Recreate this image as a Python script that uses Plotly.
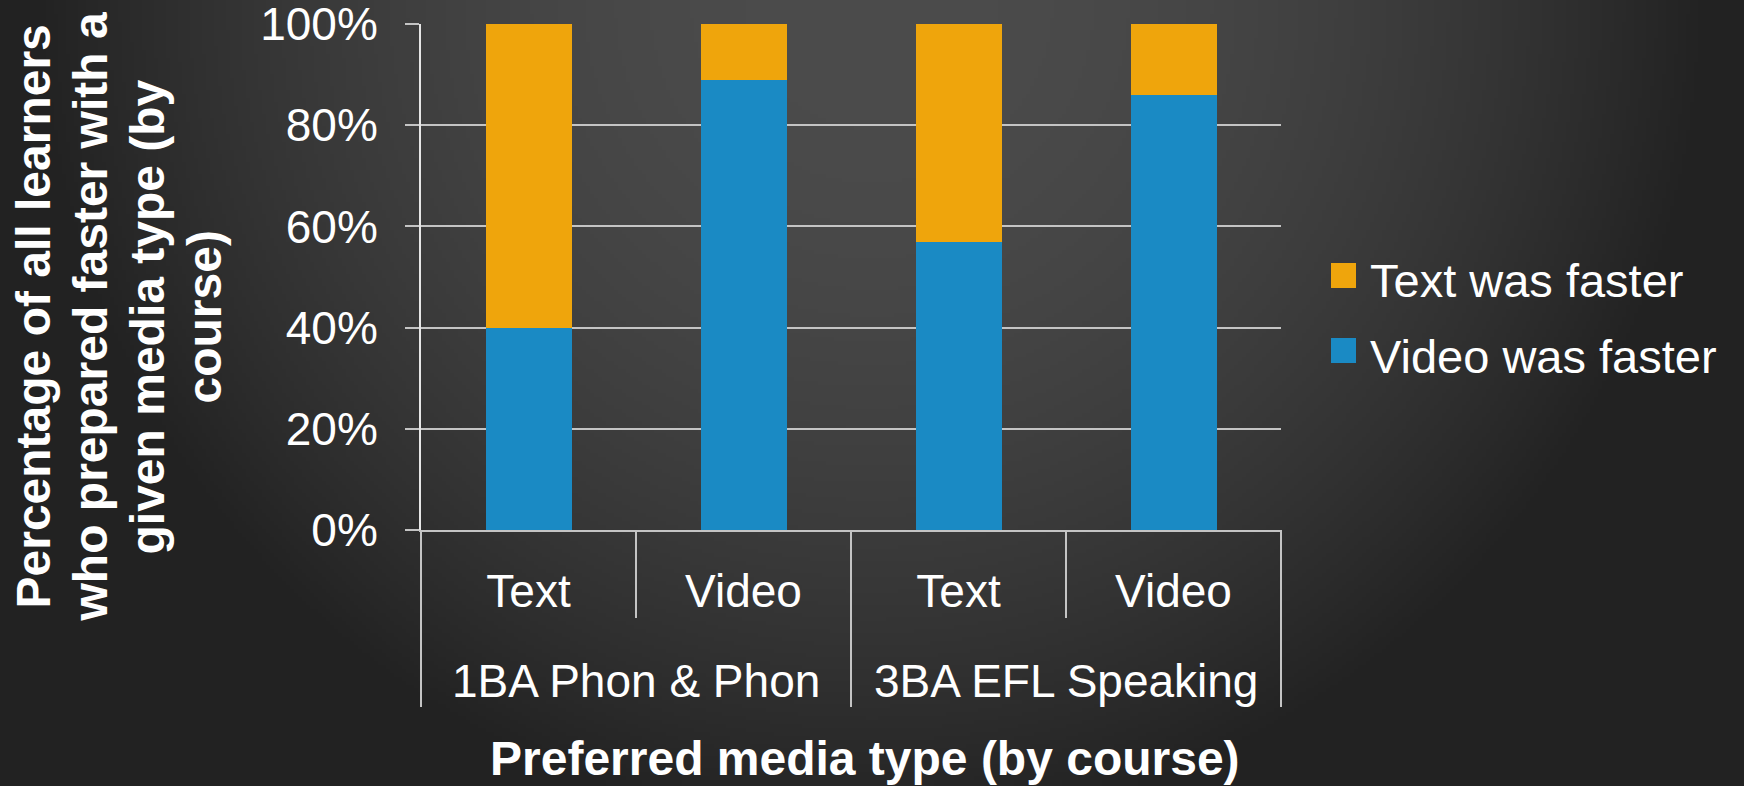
import base64
import struct
import zlib

import numpy as np
import plotly.graph_objects as go

# ---------------- data ----------------
courses = ["1BA Phon & Phon", "3BA EFL Speaking"]
media_types = ["Text", "Video"]
series_names = ["Text was faster", "Video was faster"]
text_faster = [60, 11, 43, 14]     # % of learners, per (course, preferred media)
video_faster = [40, 89, 57, 86]
y_ticks = [0, 20, 40, 60, 80, 100]
y_tick_labels = ["0%", "20%", "40%", "60%", "80%", "100%"]
x_title = "Preferred media type (by course)"
y_title_lines = ["Percentage of all learners", "who prepared faster with a",
                 "given media type (by", "course)"]

# ---------------- styling ----------------
W, H = 1744, 786
L, R, T, B = 421, 463, 24, 256
PW, PH = W - L - R, H - T - B
FONT = "Liberation Sans, Arial, sans-serif"
ORANGE = "#EFA50C"
BLUE = "#1A8AC4"
LINE = "#c4c4c4"


def px_x(px):
    return (px - L) / PW


def px_y(py):
    return (H - B - py) / PH


# background gradient image (style only)
gw, gh = 436, 197
xs = np.linspace(0, W, gw)[None, :]
ys = np.linspace(0, H, gh)[:, None]
d2 = ((xs - 872) / 820) ** 2 + (ys / 820) ** 2
img = np.clip(36 + 40 * (1 - d2), 34, 80).astype(np.uint8)


def png_gray(arr):
    h, w = arr.shape
    raw = b"".join(b"\x00" + arr[i].tobytes() for i in range(h))

    def chunk(t, d):
        c = struct.pack(">I", len(d)) + t + d
        return c + struct.pack(">I", zlib.crc32(t + d) & 0xFFFFFFFF)

    return (b"\x89PNG\r\n\x1a\n"
            + chunk(b"IHDR", struct.pack(">IIBBBBB", w, h, 8, 0, 0, 0, 0))
            + chunk(b"IDAT", zlib.compress(raw, 9))
            + chunk(b"IEND", b""))


bg_uri = "data:image/png;base64," + base64.b64encode(png_gray(img)).decode()

# category keys (unique) for the x axis
keys = [f"{c}|{m}" for c in courses for m in media_types]
inner_labels = [m for c in courses for m in media_types]

fig = go.Figure()
fig.add_trace(go.Bar(x=keys, y=video_faster, name=series_names[1],
                     marker=dict(color=BLUE, line=dict(width=0)), showlegend=False))
fig.add_trace(go.Bar(x=keys, y=text_faster, name=series_names[0],
                     marker=dict(color=ORANGE, line=dict(width=0)), showlegend=False))

shapes = []
annotations = []
n = len(keys)
# dividers below the x axis
for i in range(n + 1):
    outer = (i % len(media_types) == 0)
    shapes.append(dict(type="line", xref="x domain", yref="paper",
                       x0=i / n, x1=i / n, y0=0, y1=px_y(707 if outer else 618),
                       line=dict(color=LINE, width=2)))
# course labels
for j, c in enumerate(courses):
    annotations.append(dict(text=c, xref="x", yref="paper",
                            x=j * len(media_types) + (len(media_types) - 1) / 2,
                            y=px_y(681), xanchor="center", yanchor="middle",
                            showarrow=False, font=dict(family=FONT, size=46, color="white")))
# axis titles
annotations.append(dict(text=x_title, xref="paper", yref="paper",
                        x=px_x(865), y=px_y(758), xanchor="center", yanchor="middle",
                        showarrow=False, font=dict(family=FONT, size=48, color="white", weight="bold")))
for k, line in enumerate(y_title_lines):
    annotations.append(dict(text=line, xref="paper", yref="paper",
                            x=px_x(32.5 + 57 * k), y=px_y(317),
                            xanchor="center", yanchor="middle", textangle=-90, showarrow=False,
                            font=dict(family=FONT, size=48, color="white", weight="bold")))
# legend
leg = [(series_names[0], ORANGE, 263, 280), (series_names[1], BLUE, 338, 356)]
for name, col, sq_top, cy in leg:
    shapes.append(dict(type="rect", xref="paper", yref="paper",
                       x0=px_x(1331), x1=px_x(1356), y0=px_y(sq_top + 25), y1=px_y(sq_top),
                       fillcolor=col, line=dict(width=0)))
    annotations.append(dict(text=name, xref="paper", yref="paper", x=px_x(1368), y=px_y(cy),
                            xanchor="left", yanchor="middle", showarrow=False,
                            font=dict(family=FONT, size=47, color="white")))

fig.update_layout(
    width=W, height=H,
    autosize=False,
    margin=dict(l=L, r=R, t=T, b=B, pad=0, autoexpand=False),
    paper_bgcolor="#333333",
    plot_bgcolor="rgba(0,0,0,0)",
    barmode="stack",
    bargap=0.6,
    showlegend=False,
    font=dict(family=FONT, color="white"),
    images=[dict(source=bg_uri, xref="paper", yref="paper",
                 x=px_x(0), y=px_y(0), sizex=W / PW, sizey=H / PH,
                 xanchor="left", yanchor="top", sizing="stretch", layer="below")],
    shapes=shapes,
    annotations=annotations,
    xaxis=dict(type="category", categoryorder="array", categoryarray=keys,
               tickvals=keys, ticktext=inner_labels, automargin=False,
               tickfont=dict(family=FONT, size=46, color="white"),
               ticks="", ticklabelstandoff=20,
               showgrid=False, zeroline=False,
               showline=True, linecolor=LINE, linewidth=2),
    yaxis=dict(range=[0, 100], tickmode="array", tickvals=y_ticks, ticktext=y_tick_labels,
               automargin=False,
               tickfont=dict(family=FONT, size=46, color="white"),
               ticks="outside", ticklen=14, tickcolor=LINE, tickwidth=1.5,
               ticklabelstandoff=18, ticklabeloverflow="allow",
               showgrid=True, gridcolor=LINE, gridwidth=1.5,
               zeroline=False,
               showline=True, linecolor="#e6e6e6", linewidth=2),
)

fig.write_html("out.html", config={"displayModeBar": False},
               post_script="document.body.style.margin='0';document.body.style.overflow='hidden';")
